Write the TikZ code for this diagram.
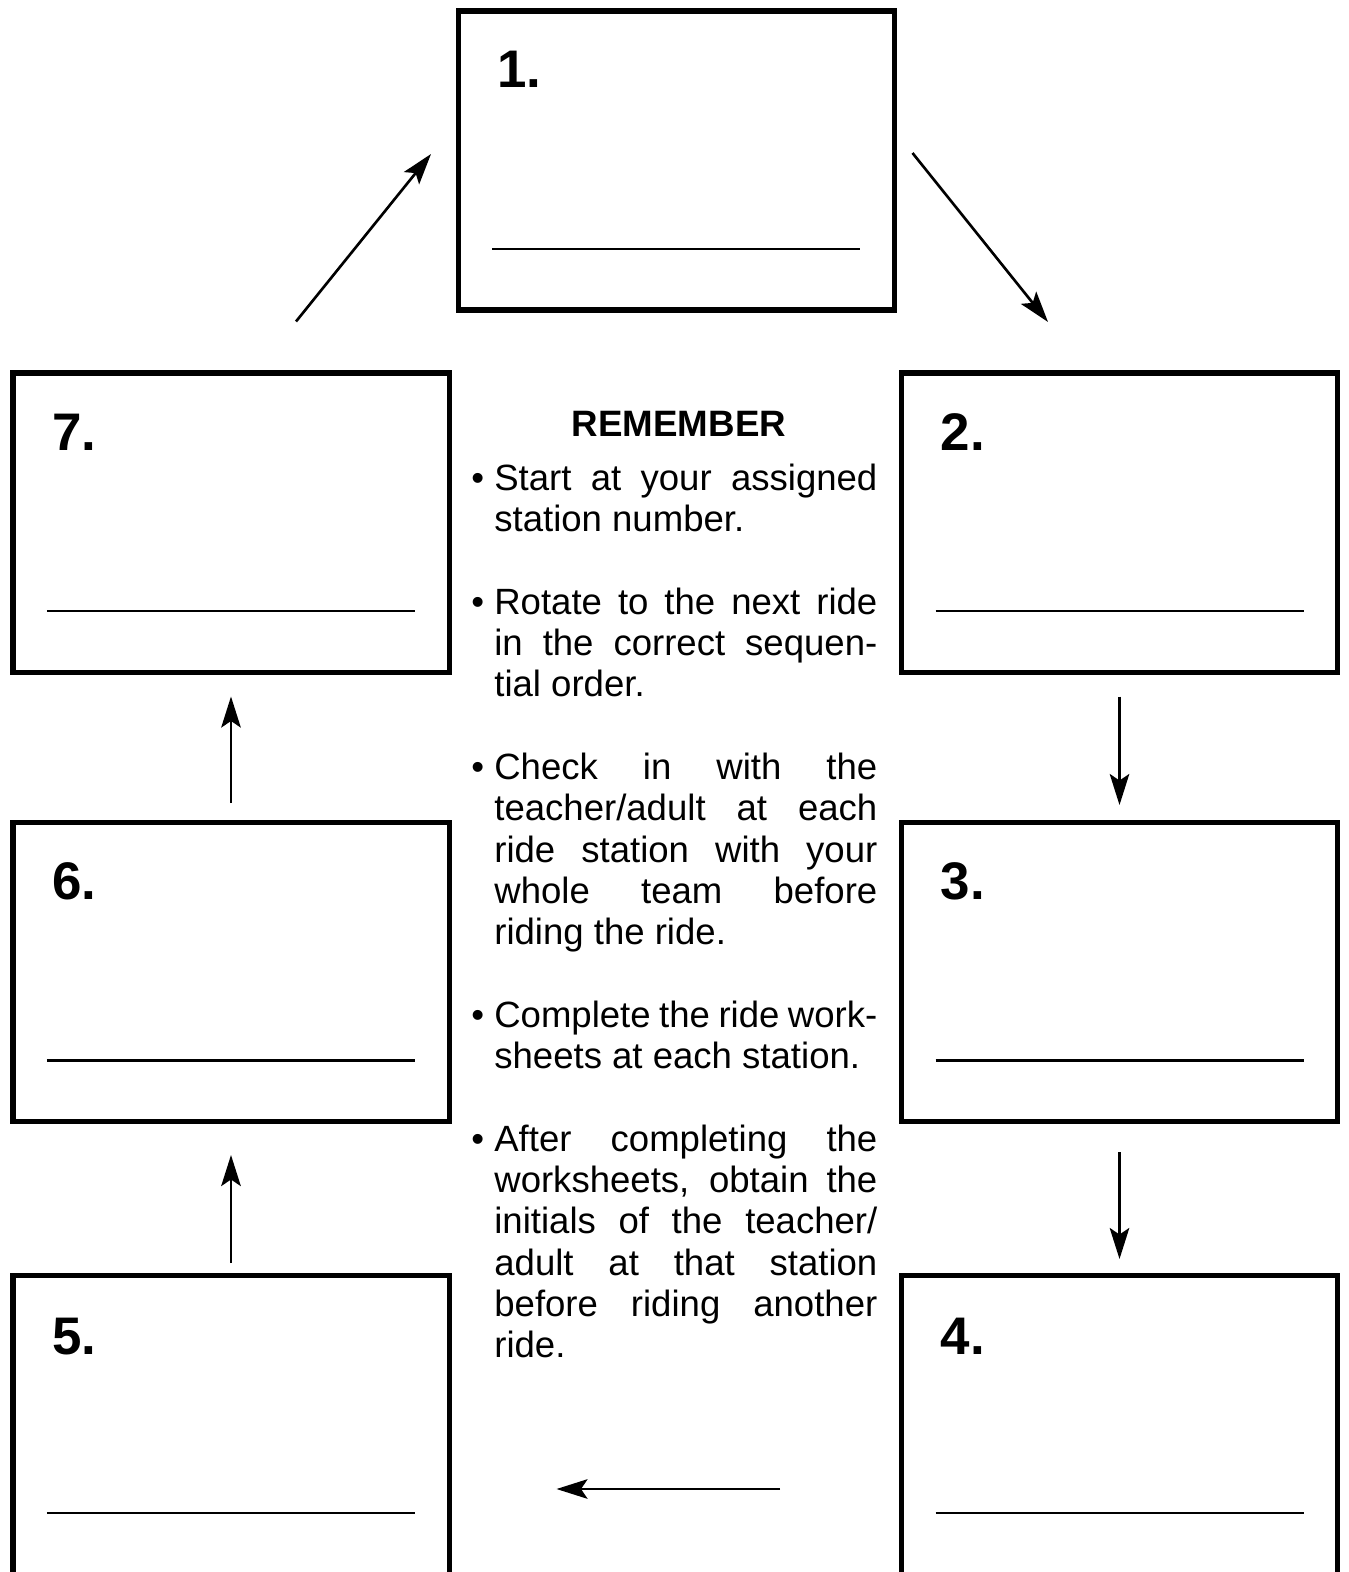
\documentclass[tikz,border=0pt]{standalone}
\usepackage{fontspec}
\setmainfont{Liberation Sans}
\usetikzlibrary{arrows.meta,backgrounds,calc}
\definecolor{ink}{HTML}{000000}
\newcommand{\ruleitem}{\noindent\llap{\textbullet\ }}
\newcommand{\rulegap}{\par\vspace{\baselineskip}}
\tikzset{
  station/.style={
    draw=ink,
    fill=white,
    line width=2.85pt,
    minimum width=8.72cm,
    minimum height=5.98cm,
    inner sep=0pt,
    outer sep=0pt
  },
  stationnum/.style={
    anchor=base west,
    inner sep=0pt,
    text=ink,
    font=\fontsize{30.1pt}{36pt}\selectfont\bfseries
  },
  writeline/.style={
    draw=ink,
    line width=1.6pt
  },
  heading/.style={
    anchor=base,
    inner sep=0pt,
    text=ink,
    font=\fontsize{20.9pt}{23.5pt}\selectfont\bfseries
  },
  reminders/.style={
    anchor=base west,
    inner sep=0pt,
    text=ink,
    text width=7.66cm,
    align=justify,
    font=\fontsize{20.8pt}{23.5pt}\selectfont
  },
  flow/.style={
    -{Stealth[length=6.2mm,width=3.9mm,inset=1.3mm]},
    draw=ink,
    line width=1.5pt
  }
}

\begin{document}
\begin{tikzpicture}

  \useasboundingbox (0,0) rectangle (26.96,-31.44);
  \clip (0,0) rectangle (26.96,-31.44);

  % Seven ride stations round the page.
  \node[station] (st1) at (13.52,-3.21) {};
  \node[station] (st2) at (22.39,-10.45) {};
  \node[station] (st3) at (22.39,-19.44) {};
  \node[station] (st4) at (22.39,-28.49) {};
  \node[station] (st5) at (4.62,-28.49) {};
  \node[station] (st6) at (4.62,-19.44) {};
  \node[station] (st7) at (4.62,-10.45) {};

  \node[stationnum] (num1) at ($(st1.north west)+(0.78,-1.54)$) {1.};
  \node[stationnum] (num2) at ($(st2.north west)+(0.78,-1.54)$) {2.};
  \node[stationnum] (num3) at ($(st3.north west)+(0.78,-1.54)$) {3.};
  \node[stationnum] (num4) at ($(st4.north west)+(0.78,-1.58)$) {4.};
  \node[stationnum] (num5) at ($(st5.north west)+(0.78,-1.58)$) {5.};
  \node[stationnum] (num6) at ($(st6.north west)+(0.78,-1.54)$) {6.};
  \node[stationnum] (num7) at ($(st7.north west)+(0.78,-1.54)$) {7.};

  \draw[writeline] ($(st1.south west)+(0.68,1.22)$) -- ($(st1.south east)+(-0.68,1.22)$);
  \draw[writeline] ($(st2.south west)+(0.68,1.22)$) -- ($(st2.south east)+(-0.68,1.22)$);
  \draw[writeline] ($(st3.south west)+(0.68,1.22)$) -- ($(st3.south east)+(-0.68,1.22)$);
  \draw[writeline] ($(st4.south west)+(0.68,1.22)$) -- ($(st4.south east)+(-0.68,1.22)$);
  \draw[writeline] ($(st5.south west)+(0.68,1.22)$) -- ($(st5.south east)+(-0.68,1.22)$);
  \draw[writeline] ($(st6.south west)+(0.68,1.22)$) -- ($(st6.south east)+(-0.68,1.22)$);
  \draw[writeline] ($(st7.south west)+(0.68,1.22)$) -- ($(st7.south east)+(-0.68,1.22)$);

  % Centre column with the reminders.
  \node[heading] (remember) at (13.58,-8.72) {REMEMBER};

  \node[reminders] (rules) at (9.88,-9.81)
    {\hbadness=10000\tolerance=10000
     \ruleitem Start at your assigned\linebreak station number.\rulegap
     \ruleitem Rotate to the next ride\linebreak in the correct sequen-\linebreak tial order.\rulegap
     \ruleitem Check in with the\linebreak teacher/adult at each\linebreak ride station with your\linebreak whole team before\linebreak riding the ride.\rulegap
     \ruleitem Complete the ride work-\linebreak sheets at each station.\rulegap
     \ruleitem After completing the\linebreak worksheets, obtain the\linebreak initials of the teacher/\linebreak adult at that station\linebreak before riding another\linebreak ride.\par};

  % Rotation order, clockwise from station 1.
  \begin{scope}[on background layer]
    \draw[flow] ([xshift=0.37cm,yshift=0.15cm]st1.east) -- ([xshift=-1.43cm,yshift=1.02cm]st2.north);
    \draw[flow] ([yshift=-0.49cm]st2.south) -- ([yshift=0.35cm]st3.north);
    \draw[flow] ([yshift=-0.61cm]st3.south) -- ([yshift=0.32cm]st4.north);
    \draw[flow] ([xshift=-2.43cm,yshift=-1.29cm]st4.west) -- ([xshift=2.15cm,yshift=-1.29cm]st5.east);
    \draw[flow] ([yshift=0.24cm]st5.north) -- ([yshift=-0.67cm]st6.south);
    \draw[flow] ([yshift=0.39cm]st6.north) -- ([yshift=-0.49cm]st7.south);
    \draw[flow] ([xshift=1.3cm,yshift=1.03cm]st7.north) -- ([xshift=-0.54cm,yshift=0.13cm]st1.west);
  \end{scope}

\end{tikzpicture}
\end{document}
